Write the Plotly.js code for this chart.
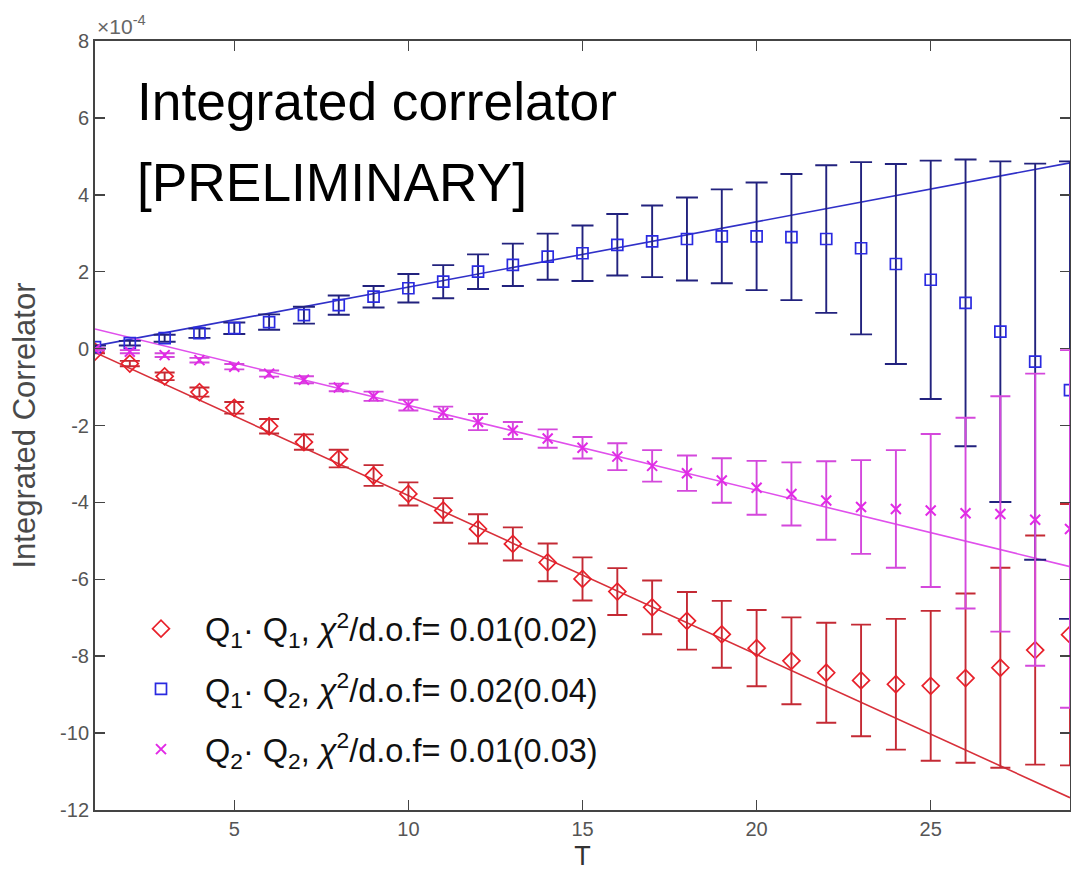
<!DOCTYPE html>
<html>
<head>
<meta charset="utf-8">
<script src="https://cdn.plot.ly/plotly-3.0.1.min.js"></script>
<style>
  html, body { margin: 0; padding: 0; background: #ffffff; }
  #chart { width: 1071px; height: 871px; }
</style>
</head>
<body>
<div id="chart"></div>
<script>
// ---- Data (values in units of 1e-4) ----
const T = [1,2,3,4,5,6,7,8,9,10,11,12,13,14,15,16,17,18,19,20,21,22,23,24,25,26,27,28,29];

const q1q1 = [-0.08,-0.39,-0.72,-1.13,-1.54,-2.02,-2.43,-2.86,-3.30,-3.78,-4.21,-4.69,-5.08,-5.56,-5.99,-6.32,-6.73,-7.08,-7.43,-7.79,-8.12,-8.43,-8.63,-8.73,-8.77,-8.57,-8.30,-7.84,-7.44];
const q1q1Err = [0.04,0.07,0.10,0.12,0.15,0.19,0.20,0.23,0.27,0.30,0.32,0.38,0.43,0.49,0.56,0.61,0.70,0.75,0.87,0.99,1.13,1.30,1.45,1.70,1.95,2.20,2.60,2.98,3.40];

const q1q2 = [0.04,0.14,0.27,0.40,0.53,0.69,0.87,1.13,1.35,1.57,1.74,2.00,2.18,2.39,2.48,2.70,2.79,2.85,2.92,2.92,2.90,2.85,2.61,2.20,1.79,1.19,0.44,-0.34,-1.08];
const q1q2Err = [0.04,0.06,0.09,0.12,0.15,0.20,0.22,0.25,0.28,0.37,0.43,0.45,0.55,0.60,0.72,0.80,0.93,1.08,1.22,1.40,1.64,1.92,2.24,2.60,3.10,3.73,4.43,5.15,5.95];

const q2q2 = [-0.02,-0.08,-0.17,-0.30,-0.47,-0.65,-0.81,-1.01,-1.24,-1.47,-1.67,-1.91,-2.13,-2.34,-2.58,-2.81,-3.05,-3.24,-3.43,-3.62,-3.78,-3.95,-4.12,-4.17,-4.21,-4.28,-4.30,-4.45,-4.69];
const q2q2Err = [0.03,0.04,0.05,0.06,0.07,0.08,0.09,0.10,0.12,0.14,0.16,0.21,0.22,0.24,0.28,0.35,0.41,0.46,0.58,0.70,0.82,1.02,1.22,1.53,1.99,2.48,3.06,3.80,4.65];

// Fit lines (endpoints)
const fitT = [1, 29];
const fitQ1Q1 = [-0.10, -11.68];
const fitQ1Q2 = [0.07, 4.83];
const fitQ2Q2 = [0.51, -5.67];

const yTicks = [-12,-10,-8,-6,-4,-2,0,2,4,6,8];
const yTickText = ['-12','-10','-8','-6','-4','-2','0','2','4','6','8'];
const xTicks = [5,10,15,20,25];

const legendNames = [
  'Q<sub>1</sub>· Q<sub>1</sub>, <i>χ</i><sup>2</sup>/d.o.f= 0.01(0.02)',
  'Q<sub>1</sub>· Q<sub>2</sub>, <i>χ</i><sup>2</sup>/d.o.f= 0.02(0.04)',
  'Q<sub>2</sub>· Q<sub>2</sub>, <i>χ</i><sup>2</sup>/d.o.f= 0.01(0.03)'
];

// ---- Styles ----
const RED = '#e8202a', RED_BAR = '#c42a34', RED_LINE = '#d8303a';
const BLUE = '#2a2ae0', BLUE_BAR = '#22227e', BLUE_LINE = '#3030c8';
const MAG = '#e22ae6', MAG_BAR = '#d448dc', MAG_LINE = '#e050ec';

// pixel helpers for placing text (plot area: x 95..1070, y 41..810)
const PL = 95, PW = 975, PT = 41, PH = 769;
const px = v => (v - PL) / PW;
const py = v => 1 - (v - PT) / PH;

const traces = [
  { x: fitT, y: fitQ1Q1, mode: 'lines', line: {color: RED_LINE, width: 1.6}, showlegend: false, hoverinfo: 'skip' },
  { x: fitT, y: fitQ1Q2, mode: 'lines', line: {color: BLUE_LINE, width: 1.6}, showlegend: false, hoverinfo: 'skip' },
  { x: fitT, y: fitQ2Q2, mode: 'lines', line: {color: MAG_LINE, width: 1.6}, showlegend: false, hoverinfo: 'skip' },
  { x: T, y: q1q1, name: legendNames[0], legendgroup: 'a', mode: 'markers',
    marker: {symbol: 'diamond-open', size: 13, color: RED, line: {color: RED, width: 1.7}},
    error_y: {type: 'data', array: q1q1Err, visible: true, color: RED_BAR, thickness: 1.9, width: 10} },
  { x: T, y: q1q2, name: legendNames[1], legendgroup: 'b', mode: 'markers',
    marker: {symbol: 'square-open', size: 11, color: BLUE, line: {color: BLUE, width: 1.7}},
    error_y: {type: 'data', array: q1q2Err, visible: true, color: BLUE_BAR, thickness: 1.9, width: 11} },
  { x: T, y: q2q2, name: legendNames[2], legendgroup: 'c', mode: 'markers',
    marker: {symbol: 'x-thin', size: 10, color: MAG, line: {color: MAG, width: 2}},
    error_y: {type: 'data', array: q2q2Err, visible: true, color: MAG_BAR, thickness: 1.9, width: 10} }
];

const axisCommon = {
  showline: true, linecolor: '#444', linewidth: 2, mirror: 'ticks',
  ticks: 'inside', ticklen: 10, tickwidth: 1.5, tickcolor: '#444',
  showgrid: false, zeroline: false,
  tickfont: {family: 'Liberation Sans, Arial, sans-serif', size: 20, color: '#555'}
};

const layout = {
  width: 1071, height: 871,
  margin: {l: 95, r: 1, t: 41, b: 61, pad: 0, autoexpand: false},
  paper_bgcolor: '#ffffff', plot_bgcolor: '#ffffff',
  font: {family: 'Liberation Sans, Arial, sans-serif', color: '#222'},
  showlegend: true,
  xaxis: Object.assign({}, axisCommon, {
    range: [1, 29], tickmode: 'array', tickvals: xTicks, automargin: false,
    title: {text: 'T', font: {size: 27, color: '#333'}, standoff: 8}
  }),
  yaxis: Object.assign({}, axisCommon, {
    range: [-12, 8], tickmode: 'array', tickvals: yTicks, ticktext: yTickText, automargin: false,
    title: {text: 'Integrated Correlator', font: {size: 31, color: '#4a4a4a'}, standoff: 15}
  }),
  legend: {
    xref: 'paper', yref: 'paper', x: px(117), y: py(601), xanchor: 'left', yanchor: 'top',
    bgcolor: 'rgba(255,255,255,0)', borderwidth: 0, itemwidth: 78, tracegroupgap: 15,
    font: {family: 'Liberation Sans, Arial, sans-serif', size: 32.5, color: '#111'}
  },
  annotations: [
    {text: 'Integrated correlator', xref: 'paper', yref: 'paper', x: px(135), y: py(101),
     xanchor: 'left', yanchor: 'middle', showarrow: false,
     font: {family: 'Liberation Sans, Arial, sans-serif', size: 53.3, color: '#000'}},
    {text: '[PRELIMINARY]', xref: 'paper', yref: 'paper', x: px(135), y: py(183),
     xanchor: 'left', yanchor: 'middle', showarrow: false,
     font: {family: 'Liberation Sans, Arial, sans-serif', size: 53.3, color: '#000'}},
    {text: '×10<sup>-4</sup>', xref: 'paper', yref: 'paper', x: px(95), y: py(25),
     xanchor: 'left', yanchor: 'middle', showarrow: false,
     font: {family: 'Liberation Sans, Arial, sans-serif', size: 21, color: '#666'}}
  ]
};

Plotly.newPlot('chart', traces, layout, {staticPlot: true, displayModeBar: false});
</script>
</body>
</html>
